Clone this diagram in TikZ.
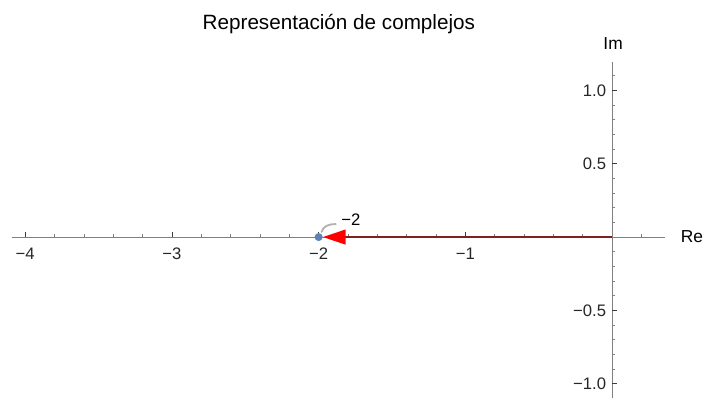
\documentclass[tikz,border=0pt]{standalone}
\usepackage{fontspec}
\setmainfont{Liberation Sans}
\usetikzlibrary{arrows.meta,positioning}
\definecolor{axisgray}{RGB}{128,128,128}
\definecolor{tickgray}{RGB}{60,60,60}
\definecolor{vecred}{RGB}{128,32,32}
\definecolor{ptblue}{RGB}{94,129,181}
\begin{document}
\begin{tikzpicture}[
  x=110pt,y=110pt,
  font=\fontsize{12.5}{14}\selectfont,
  axis/.style={draw=axisgray,line width=0.8pt},
  majortick/.style={draw=tickgray,line width=0.6pt},
  minortick/.style={draw=axisgray,line width=0.5pt},
  ticklbl/.style={inner sep=1pt,text=black!85},
  pt/.style={circle,fill=ptblue,inner sep=0pt,minimum size=6pt},
  vec/.style={draw=vecred,line width=1.5pt,-{Triangle[length=17pt,width=11pt,color=red]}},
  callout/.style={draw=black!30,line width=1.4pt,line cap=round},
  lbl/.style={inner sep=1pt}
]
\useasboundingbox (-4.172,-1.097) rectangle (0.620,1.616);
\draw[axis] (-4.09,0) -- (0.361,0);
\draw[axis] (0,-1.097) -- (0,1.193);
\foreach \i in {-20,...,1}
  \draw[minortick] (\i/5,0) -- ++(0,0.022);
\foreach \x in {-4,...,-1}{
  \draw[majortick] (\x,0) -- ++(0,0.036);
  \node[ticklbl,anchor=north] at (\x,-0.065) {−\the\numexpr-\x\relax};
}
\foreach \i in {-10,...,11}
  \draw[minortick] (0,\i/10) -- ++(0.022,0);
\foreach \y/\t in {-1/−1.0,-0.5/−0.5,0.5/0.5,1/1.0}{
  \draw[majortick] (0,\y) -- ++(0.036,0);
  \node[ticklbl,anchor=east] at (-0.03,\y) {\t};
}
\node[font=\fontsize{13}{15}\selectfont] (re) at (0.545,0) {Re};
\node[font=\fontsize{13}{15}\selectfont] (im) at (0.007,1.316) {Im};
\node[font=\fontsize{15.5}{17}\selectfont] (title) at (-1.862,1.45) {Representación de complejos};
\coordinate (o) at (0,0);
\node[pt] (z) at (-2,0) {};
\node[lbl] (zl) at (-1.78,0.116) {−2};
\draw[vec] (o) -- (z);
\draw[callout] (z) ++(0.02,0.035) to[out=75,in=180] ([xshift=-3pt,yshift=-3pt]zl.west);
\end{tikzpicture}
\end{document}
